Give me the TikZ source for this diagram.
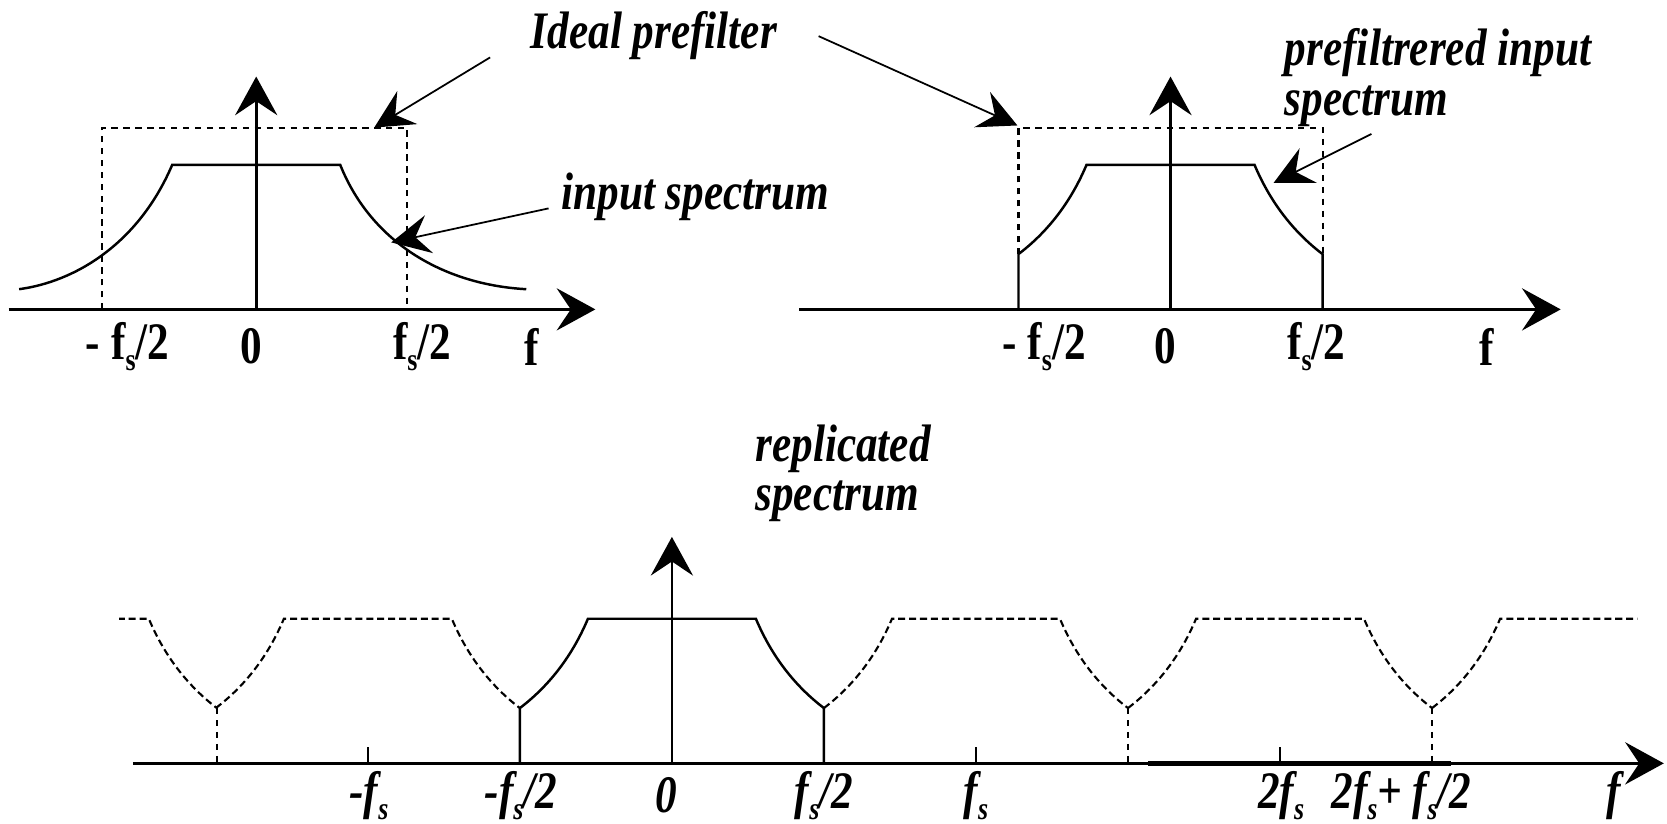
\documentclass[tikz,border=0pt]{standalone}
\usepackage{fontspec}
\setmainfont{Liberation Serif}[FakeStretch=0.82]
\usetikzlibrary{arrows.meta}
\newcommand{\lobe}{(-143,-52) .. controls (-118,-71) and (-95,-98) .. (-79,-136) -- (79,-136) .. controls (95,-98) and (118,-71) .. (143,-52)}
\newcommand{\fsub}[1]{\raisebox{-0.45ex}{\fontsize{9}{9}\selectfont #1}}
\tikzset{
  axis/.style={-{Stealth[length=11pt,width=12pt,inset=4pt]},line width=0.8pt},
  note/.style={-{Stealth[length=11pt,width=11pt,inset=4pt]},line width=0.5pt},
  spec/.style={line width=0.7pt},
  rep/.style={line width=0.6pt,dash pattern=on 2pt off 1.1pt},
  lim/.style={line width=0.6pt,dash pattern=on 1.8pt off 1.6pt},
  lbl/.style={font=\fontsize{15}{15}\selectfont\bfseries,inner sep=0pt},
  ilbl/.style={font=\fontsize{15}{15}\selectfont\bfseries\itshape,inner sep=0pt},
  txt/.style={font=\fontsize{15}{14}\selectfont\bfseries\itshape,inner sep=0pt,align=left},
}
\begin{document}
\begin{tikzpicture}[x=0.010632cm,y=-0.010632cm]
  \useasboundingbox (0,0) rectangle (1568,775);
  % input spectrum
  \draw[axis] (8,291) -- (560,291);
  \draw[axis] (241,291) -- (241,72);
  \draw[lim] (96,291) -- (96,120) -- (383,120) -- (383,291);
  \draw[spec] (18,272) .. controls (70,265) and (130,230) .. (162,155) -- (320,155)
    .. controls (350,230) and (420,268) .. (495,272);
  \node[lbl] (lmh) at (120,326) {- f\fsub{s}/2};
  \node[lbl] (lzero) at (236,326) {0};
  \node[lbl] (lph) at (397,326) {f\fsub{s}/2};
  \node[lbl] (lf) at (500,326) {f};
  % prefiltered spectrum
  \draw[axis] (752,291) -- (1468,291);
  \draw[axis] (1101,291) -- (1101,72);
  \draw[lim] (958,239) -- (958,120) -- (1244,120) -- (1244,239);
  \draw[spec,shift={(1101,291)}] (-143,0) -- \lobe -- (143,0);
  \node[lbl] (rmh) at (982,326) {- f\fsub{s}/2};
  \node[lbl] (rzero) at (1096,326) {0};
  \node[lbl] (rph) at (1238,326) {f\fsub{s}/2};
  \node[lbl] (rf) at (1398,326) {f};
  % annotations
  \node[txt] (ideal) at (615,33) {Ideal prefilter};
  \node[txt] (inspec) at (654,185) {input spectrum};
  \node[txt,anchor=west] (pfspec) at (1208,73) {prefiltrered input\\spectrum};
  \coordinate (idA) at (461,54);
  \coordinate (idB) at (770,34);
  \coordinate (inA) at (516,196);
  \coordinate (pfA) at (1290,126);
  \coordinate (boxR) at (352,120);
  \coordinate (boxL) at (957,118);
  \coordinate (curveL) at (368,228);
  \coordinate (curveR) at (1198,172);
  \draw[note] (idA) -- (boxR);
  \draw[note] (idB) -- (boxL);
  \draw[note] (inA) -- (curveL);
  \draw[note] (pfA) -- (curveR);
  % replicated spectrum
  \draw[axis,line width=1pt] (125,718) -- (1565,718);
  \draw[line width=1.4pt] (1080,718) -- (1365,718);
  \draw[axis] (632,718) -- (632,505);
  \draw[spec,shift={(632,718)}] (-143,0) -- \lobe -- (143,0);
  \begin{scope}
    \clip (112,500) rectangle (1540,720);
    \foreach \c in {61,346,918,1204,1490}
      \draw[rep,shift={(\c,718)}] \lobe;
  \end{scope}
  \foreach \v in {204,1061,1347}
    \draw[lim] (\v,666) -- (\v,718);
  \foreach \t in {346,918,1204}
    \draw[spec] (\t,718) -- (\t,703);
  \node[ilbl] (bmf) at (347,748) {-f\fsub{s}};
  \node[ilbl] (bmh) at (490,748) {-f\fsub{s}/2};
  \node[ilbl] (bzero) at (627,748) {0};
  \node[ilbl] (bph) at (775,748) {f\fsub{s}/2};
  \node[ilbl] (bpf) at (918,748) {f\fsub{s}};
  \node[ilbl] (btwo) at (1205,748) {2f\fsub{s}};
  \node[ilbl] (btwoh) at (1318,748) {2f\fsub{s}+ f\fsub{s}/2};
  \node[ilbl] (bf) at (1518,748) {f};
  \node[txt,anchor=west] (repspec) at (710,445) {replicated\\spectrum};
\end{tikzpicture}
\end{document}
